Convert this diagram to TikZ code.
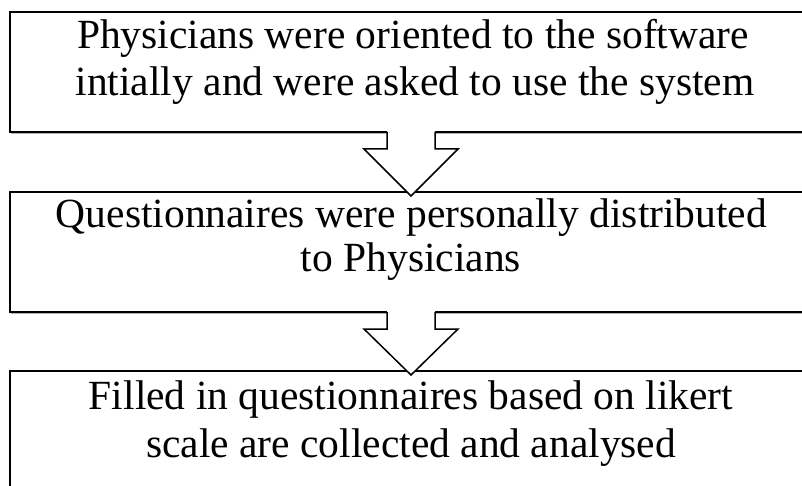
\documentclass[tikz,border=0pt]{standalone}
\usepackage{fontspec}
\setmainfont{Liberation Serif}
\usetikzlibrary{calc,shadows}
\begin{document}
\begin{tikzpicture}[x=1pt,y=-1pt,
  stepbox/.style={draw=black,line width=1.5pt,fill=white,rectangle,
    minimum width=802pt,minimum height=120pt,inner sep=0pt,outer sep=0pt,
    drop shadow={shadow xshift=0.8pt,shadow yshift=-1.8pt,opacity=0.3,fill=black}},
  steptext/.style={anchor=base,inner sep=0pt,font=\fontsize{41.5}{47}\selectfont},
  blockarrow/.style={draw=black,line width=1.5pt,line join=miter}
]
\useasboundingbox (0,0) rectangle (802,486);
\clip (0,0) rectangle (802,486);
\fill[white] (0,0) rectangle (802,486);
% boxes
\node[stepbox] (box1) at (411,72) {};
\node[stepbox] (box2) at (411,252) {};
\node[stepbox,minimum height=140pt] (box3) at (411,441) {};
% texts
\node[steptext] (t1a) at (413,49) {Physicians were oriented to the software};
\node[steptext] (t1b) at (415,96) {intially and were asked to use the system};
\node[steptext] (t2a) at (411.5,227) {Questionnaires were personally distributed};
\node[steptext] (t2b) at (411,271) {to Physicians};
\node[steptext] (t3a) at (411,409) {Filled in questionnaires based on likert};
\node[steptext] (t3b) at (411,457) {scale are collected and analysed};
% block arrows
\foreach \a/\b in {box1/box2,box2/box3}{
  \fill[white] ($(\a.south)+(-24,-2)$) -- ($(\a.south)+(-24,17)$) -- ($(\a.south)+(-47,17)$)
     -- ($(\b.north)+(0,4)$) -- ($(\a.south)+(47,17)$) -- ($(\a.south)+(24,17)$)
     -- ($(\a.south)+(24,-2)$) -- cycle;
  \draw[blockarrow] ($(\a.south)+(-24,0)$) -- ($(\a.south)+(-24,17)$) -- ($(\a.south)+(-47,17)$)
     -- ($(\b.north)+(0,4)$) -- ($(\a.south)+(47,17)$) -- ($(\a.south)+(24,17)$)
     -- ($(\a.south)+(24,0)$);
}
\end{tikzpicture}
\end{document}
